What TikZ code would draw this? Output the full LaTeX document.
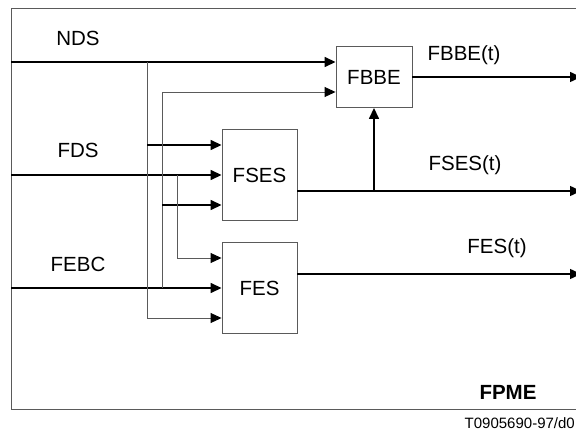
\documentclass[tikz,border=0pt]{standalone}
\usepackage{fontspec}
\setmainfont{Liberation Sans}
\usetikzlibrary{arrows.meta, positioning, calc}
\definecolor{framegray}{RGB}{90,90,90}

\begin{document}
\begin{tikzpicture}[x=1pt, y=-1pt,
  blk/.style={draw=framegray, line width=0.9pt, minimum width=75pt, minimum height=91pt, inner sep=0pt, font=\fontsize{20.5}{24}\selectfont},
  sig/.style={line width=1.5pt, -{Triangle[length=11pt, width=10pt]}},
  tap/.style={draw=framegray, line width=0.9pt, -{Triangle[length=11pt, width=10pt, black]}},
  lbl/.style={font=\fontsize{20.5}{24}\selectfont, inner sep=0pt}]
\useasboundingbox (0,0) rectangle (576,435);
% outer frame, open to the right
\draw[draw=framegray, line width=0.9pt] (582,8) -- (11,8) -- (11,409) -- (582,409);

% blocks
\node[blk] (fses) at (259.5,175) {FSES};
\node[blk] (fes) at (259.5,288) {FES};
\node[blk, minimum width=76pt, minimum height=61pt] (fbbe) at (374,77) {FBBE};

% input points on the blocks
\coordinate (fbbe1) at ($(fbbe.west)+(0,-15)$);
\coordinate (fbbe2) at ($(fbbe.west)+(0,15)$);
\coordinate (fses1) at ($(fses.west)+(0,-30)$);
\coordinate (fses3) at ($(fses.west)+(0,30)$);
\coordinate (fes1) at ($(fes.west)+(0,-30)$);
\coordinate (fes3) at ($(fes.west)+(0,30)$);

% signal entries and taps
\coordinate (nds) at (11,62);
\coordinate (fds) at (11,175);
\coordinate (febc) at (11,288);
\coordinate (tapn) at (147,62);
\coordinate (tapf) at (177,175);
\coordinate (tape) at (162,288);

\node[lbl] (ndslbl) at (78,38) {NDS};
\node[lbl] (fdslbl) at (78,150) {FDS};
\node[lbl] (febclbl) at (78,264) {FEBC};

\draw[sig] (nds) -- (fbbe1);
\draw[sig] (fds) -- (fses.west);
\draw[sig] (febc) -- (fes.west);

% branches
\draw[tap] (tapn) |- (fes3);
\draw[sig] (tapn |- fses1) -- (fses1);
\draw[tap] (tape) |- (fbbe2);
\draw[sig] (tape |- fses3) -- (fses3);
\draw[tap] (tapf) |- (fes1);

% outputs
\coordinate (edge) at (581,0);
\coordinate (fsesout) at ($(fses.east)+(0,16)$);
\coordinate (fesout) at ($(fes.east)+(0,-14)$);
\coordinate (join) at (fbbe.south |- fsesout);

\draw[sig] (fbbe.east) -- (edge |- fbbe.east);
\draw[sig] (fsesout) -- (edge |- fsesout);
\draw[sig] (fesout) -- (edge |- fesout);
\draw[sig] (join) -- (fbbe.south);

\node[lbl] (fbbelbl) at (464,55) {FBBE(t)};
\node[lbl] (fseslbl) at (465,165) {FSES(t)};
\node[lbl] (feslbl) at (497,248) {FES(t)};

\node[lbl, font=\fontsize{20.5}{24}\selectfont\bfseries] (fpme) at (508,392) {FPME};
\node[font=\fontsize{15}{18}\selectfont, inner sep=0pt, anchor=east] (tag) at (575,423) {T0905690-97/d0};
\end{tikzpicture}
\end{document}
